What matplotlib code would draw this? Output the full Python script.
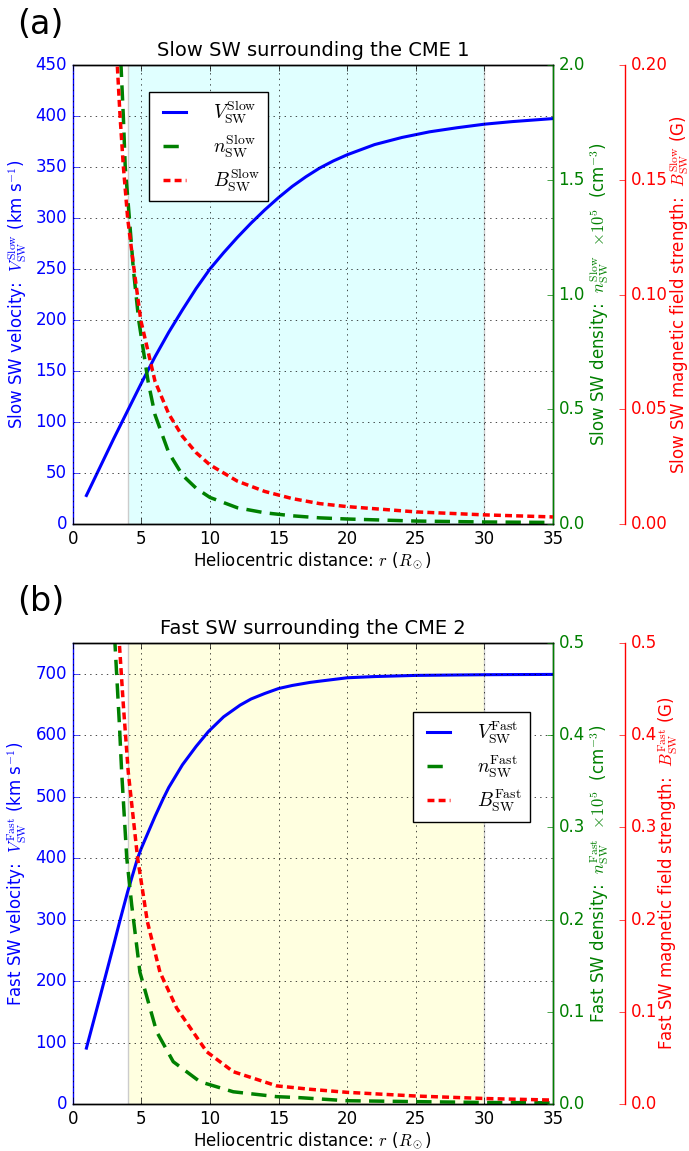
import numpy as np
import matplotlib
matplotlib.use('Agg')
import matplotlib.pyplot as plt

plt.style.use('classic')
plt.rcParams['figure.facecolor'] = 'white'
plt.rcParams['lines.scale_dashes'] = False

# ---- panel (a): slow SW around CME 1 ----
r_v_slow = [1, 2, 3, 4, 5, 6, 7, 8, 9, 10, 11, 12, 13, 14, 15, 16, 17, 18, 19, 20,
            22, 24, 26, 28, 30, 32, 35]
v_slow = [28, 56, 84, 111, 138, 164, 188, 210, 231, 250, 266, 281, 295, 308, 320, 331,
          340.5, 349, 356, 362, 372, 379, 384.5, 388.5, 392, 394.5, 397.5]

r_n_slow = [3.45, 3.52, 3.69, 3.83, 4.13, 4.42, 4.81, 5.5, 6, 7, 8, 9, 10, 12, 14, 16,
            18, 20, 25, 30, 35]
n_slow = [2.22, 2.0, 1.778, 1.556, 1.333, 1.111, 0.889, 0.62, 0.476, 0.311, 0.213, 0.156,
          0.116, 0.071, 0.049, 0.036, 0.027, 0.022, 0.013, 0.009, 0.007]

r_b_slow = [3.2, 3.25, 3.45, 3.69, 4.01, 4.47, 4.96, 6, 7, 8, 9, 10, 12, 14, 16, 18, 20,
            25, 30, 35]
b_slow = [0.209, 0.2, 0.178, 0.156, 0.133, 0.111, 0.0889, 0.0622, 0.048, 0.0382, 0.0311,
          0.0258, 0.0187, 0.0142, 0.0111, 0.0089, 0.0076, 0.0053, 0.004, 0.0031]

# ---- panel (b): fast SW around CME 2 ----
r_v_fast = [1, 2, 3, 3.45, 4, 4.73, 5, 6, 6.6, 7, 8, 9, 9.89, 11, 12.2, 13, 14, 15, 16,
            17.3, 18, 20, 22, 25, 30, 35]
v_fast = [91, 175, 260, 299, 345, 400, 416, 468, 497, 515, 552, 582, 606, 630, 649, 659,
          668, 676, 681, 686, 688, 693.5, 695.5, 697.4, 698.5, 699]

r_n_fast = [3.0, 3.08, 3.4, 3.57, 3.94, 4.3, 4.9, 6.12, 7.33, 9.28, 11.7, 14.87, 16.57,
            19.97, 25, 30, 35]
n_fast = [0.533, 0.5, 0.413, 0.36, 0.267, 0.216, 0.143, 0.0784, 0.0459, 0.0242, 0.0133,
          0.008, 0.0069, 0.0036, 0.0026, 0.0017, 0.0013]

r_b_fast = [3.3, 3.4, 3.69, 4.05, 4.73, 5.44, 6.36, 7.58, 9.77, 11.7, 14.87, 17.3, 20,
            25, 30, 35]
b_fast = [0.533, 0.5, 0.433, 0.36, 0.267, 0.198, 0.143, 0.104, 0.0567, 0.0351, 0.0197,
          0.016, 0.0127, 0.0087, 0.006, 0.0043]

x_ticks = [0, 5, 10, 15, 20, 25, 30, 35]


def draw_panel(fig, rect, kind, title, shade, r_v, v, r_n, n, r_b, b,
               vmax, vticks, nmax, nticks, bmax, bticks, leg_anchor):
    ax = fig.add_axes(rect)
    ax.axvspan(4, 30, facecolor=shade, edgecolor='0.8', lw=1, zorder=0)
    l1, = ax.plot(r_v, v, color='b', lw=2.2)
    ax.set_xlim(0, 35)
    ax.set_ylim(0, vmax)
    ax.set_xticks(x_ticks)
    ax.set_yticks(vticks)
    ax.grid(True)
    ax.tick_params(axis='y', colors='b')
    ax.spines['left'].set_color('b')
    ax.set_xlabel(r'Heliocentric distance: $r$ ($R_\odot$)', labelpad=2)
    ax.set_ylabel(r'%s SW velocity:  $V_{\rm SW}^{\rm %s}$ (km s$^{-1}$)' % (kind, kind),
                  color='b')
    ax.set_title('%s SW surrounding the CME %s' % (kind, title), fontsize=14, y=1.005)

    ax2 = ax.twinx()
    l2, = ax2.plot(r_n, n, color='g', lw=2.5, dashes=(11, 6))
    ax2.set_ylim(0, nmax)
    ax2.set_yticks(nticks)
    ax2.tick_params(axis='y', colors='g')
    ax2.spines['right'].set_color('g')
    ax2.spines['left'].set_visible(False)
    ax2.set_ylabel(r'%s SW density:  $n_{\rm SW}^{\rm %s}$  $\times 10^5$  (cm$^{-3}$)'
                   % (kind, kind), color='g', labelpad=2)

    ax3 = ax.twinx()
    ax3.spines['right'].set_position(('axes', 1.15))
    ax3.set_frame_on(True)
    ax3.patch.set_visible(False)
    for sp in ax3.spines.values():
        sp.set_visible(False)
    ax3.spines['right'].set_visible(True)
    ax3.spines['right'].set_color('r')
    l3, = ax3.plot(r_b, b, color='r', lw=2.5, dashes=(5, 3))
    ax3.set_ylim(0, bmax)
    ax3.set_yticks(bticks)
    ax3.tick_params(axis='y', colors='r')
    ax3.set_ylabel(r'%s SW magnetic field strength:  $B_{\rm SW}^{\rm %s}$ (G)'
                   % (kind, kind), color='r', labelpad=0)

    ax3.legend([l1, l2, l3],
               [r'$V_{\rm SW}^{\rm %s}$' % kind, r'$n_{\rm SW}^{\rm %s}$' % kind,
                r'$B_{\rm SW}^{\rm %s}$' % kind],
               loc='upper left', bbox_to_anchor=leg_anchor, borderaxespad=0,
               fontsize=14, handlelength=1.8, handletextpad=1.1, labelspacing=0.4)
    return ax


fig = plt.figure(figsize=(6.89, 11.51), dpi=100)

draw_panel(fig, [0.1055, 0.5447, 0.697, 0.3988], 'Slow', '1', 'lightcyan',
           r_v_slow, v_slow, r_n_slow, n_slow, r_b_slow, b_slow,
           450, np.arange(0, 451, 50), 2.0, [0.0, 0.5, 1.0, 1.5, 2.0],
           0.20, [0.0, 0.05, 0.10, 0.15, 0.20], (0.159, 0.942))
fig.text(0.025, 1 - 8 / 1151., '(a)', fontsize=24, va='top')

draw_panel(fig, [0.1055, 0.0408, 0.697, 0.4005], 'Fast', '2', 'lightyellow',
           r_v_fast, v_fast, r_n_fast, n_fast, r_b_fast, b_fast,
           750, np.arange(0, 701, 100), 0.5, [0.0, 0.1, 0.2, 0.3, 0.4, 0.5],
           0.5, [0.0, 0.1, 0.2, 0.3, 0.4, 0.5], (0.709, 0.85))
fig.text(0.025, 1 - 585 / 1151., '(b)', fontsize=24, va='top')

fig.savefig('out.png', dpi=100)
